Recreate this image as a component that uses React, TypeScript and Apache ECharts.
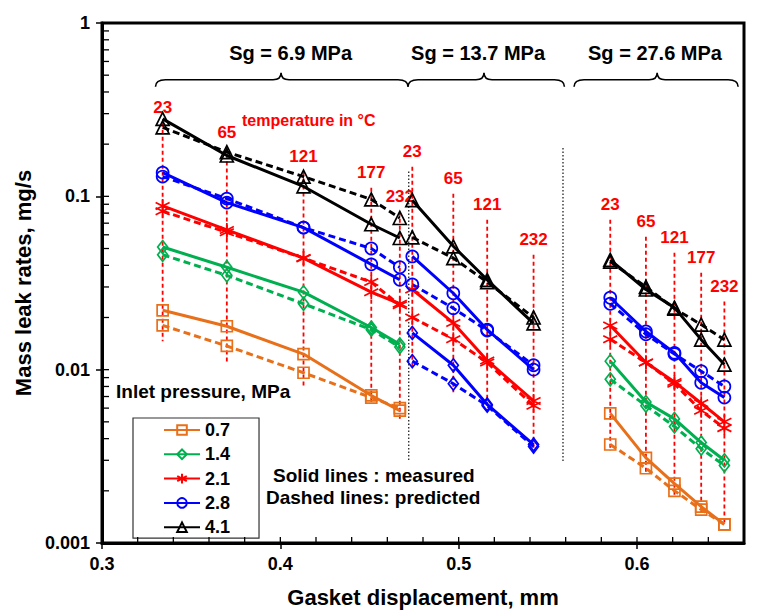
import React, { useEffect, useRef } from 'react';
import * as echarts from 'echarts';

const FONT = "'Liberation Sans', Arial, Helvetica, sans-serif";

// Gasket displacement (mm) of each test, grouped by gasket stress Sg
const xSg69 = [0.334, 0.370, 0.413, 0.451, 0.467];
const xSg137 = [0.474, 0.497, 0.516, 0.542];
const xSg276 = [0.585, 0.605, 0.621, 0.636, 0.649];

// Temperatures (°C) of each test
const tempSg69 = ['23', '65', '121', '177', '232'];
const tempSg137 = ['23', '65', '121', '232'];
const tempSg276 = ['23', '65', '121', '177', '232'];

// Inlet pressures (MPa)
const pressureNames = ['0.7', '1.4', '2.1', '2.8', '4.1'];

// Mass leak rates (mg/s): measured (solid) / predicted (dashed)
const meas07_69 = [0.022, 0.0178, 0.0123, 0.0071, 0.0058];
const pred07_69 = [0.018, 0.0137, 0.0096, 0.0069, 0.0060];
const meas07_276 = [0.0056, 0.0031, 0.0022, 0.00162, 0.00128];
const pred07_276 = [0.0037, 0.0027, 0.0020, 0.00156, 0.00128];

const meas14_69 = [0.051, 0.039, 0.028, 0.0175, 0.0140];
const pred14_69 = [0.046, 0.035, 0.024, 0.0170, 0.0135];
const meas14_137 = [0.0163, 0.0106, 0.0063, 0.0037];
const pred14_137 = [0.0112, 0.0083, 0.0062, 0.0036];
const meas14_276 = [0.0112, 0.0065, 0.0052, 0.0038, 0.0030];
const pred14_276 = [0.0088, 0.0062, 0.0047, 0.0035, 0.0028];

const meas21_69 = [0.088, 0.064, 0.044, 0.028, 0.024];
const pred21_69 = [0.082, 0.062, 0.044, 0.032, 0.0235];
const meas21_137 = [0.029, 0.0186, 0.0113, 0.0066];
const pred21_137 = [0.020, 0.015, 0.011, 0.0062];
const meas21_276 = [0.018, 0.011, 0.0085, 0.0064, 0.0050];
const pred21_276 = [0.015, 0.011, 0.0083, 0.0058, 0.0046];

const meas28_69 = [0.137, 0.092, 0.066, 0.0405, 0.033];
const pred28_69 = [0.130, 0.097, 0.066, 0.050, 0.039];
const meas28_137 = [0.045, 0.0276, 0.017, 0.0100];
const pred28_137 = [0.031, 0.0226, 0.0168, 0.0106];
const meas28_276 = [0.026, 0.0166, 0.0125, 0.0084, 0.0069];
const pred28_276 = [0.024, 0.0160, 0.0123, 0.0098, 0.0080];

const meas41_69 = [0.28, 0.172, 0.114, 0.069, 0.0575];
const pred41_69 = [0.25, 0.180, 0.130, 0.096, 0.075];
const meas41_137 = [0.095, 0.0515, 0.033, 0.0185];
const pred41_137 = [0.058, 0.044, 0.032, 0.0200];
const meas41_276 = [0.043, 0.029, 0.0228, 0.0149, 0.0107];
const pred41_276 = [0.042, 0.030, 0.0225, 0.0182, 0.0149];

// Vertical temperature guide lines (top / bottom in mg/s)
const tempTop69 = [0.266, 0.191, 0.139, 0.112, 0.0815];
const tempBottom69 = [0.0146, 0.0109, 0.008, 0.0065, 0.0052];
const tempTop137 = [0.148, 0.1035, 0.0733, 0.046];
const tempBottom137 = [0.010, 0.0074, 0.0057, 0.0035];
const tempTop276 = [0.0733, 0.0585, 0.0473, 0.0362, 0.0247];
const tempBottom276 = [0.0034, 0.0025, 0.0019, 0.0015, 0.0013];

// Dotted separators between gasket stress groups
const dividerX = [0.472, 0.5585];
const dividerTop = [0.139, 0.19];
const dividerBottom = [0.003, 0.0029];

// Braces over each gasket stress group
const braceTitles = ['Sg = 6.9 MPa', 'Sg = 13.7 MPa', 'Sg = 27.6 MPa'];
const braceStart = [0.330, 0.4716, 0.5647];
const braceEnd = [0.4716, 0.5593, 0.6567];
const braceTip = [0.4004, 0.5142, 0.6113];
const braceTitleX = [0.4058, 0.5109, 0.6101];
const braceLevel = 0.471;
const braceTitleLevel = 0.674;

// Axis ticks
const xMajorTicks = [0.3, 0.4, 0.5, 0.6];
const xMinorTicks = [0.32, 0.34, 0.36, 0.38, 0.42, 0.44, 0.46, 0.48, 0.52, 0.54, 0.56, 0.58, 0.62, 0.64];
const yDecades = [0.001, 0.01, 0.1];
const yMantissas = [2, 3, 4, 5, 6, 7, 8, 9];

const ORANGE = '#E8701A';
const GREEN = '#00B050';
const RED = '#FF0000';
const BLUE = '#0000FF';
const BLACK = '#000000';
const STAR = 'path://M5 0L5 10M0.67 2.5L9.33 7.5M9.33 2.5L0.67 7.5';

function lineSeries(name: string, xs: number[], ys: number[], color: string, symbol: string, symbolSize: any, dashed: boolean) {
  return {
    type: 'line',
    name,
    data: xs.map((x, i) => [x, ys[i]]),
    symbol,
    symbolSize,
    showSymbol: true,
    lineStyle: { color, width: 3, type: dashed ? [7, 4] : 'solid' },
    itemStyle: { color: 'transparent', borderColor: color, borderWidth: 1.7 },
    emphasis: { disabled: true },
    z: 3,
  };
}

export default function App() {
  const ref = useRef<HTMLDivElement>(null);

  useEffect(() => {
    document.body.style.margin = '0';
    if (!ref.current) return;
    const chart = echarts.init(ref.current, undefined, { renderer: 'svg' });

    const styles: Record<string, { color: string; symbol: string; size: any }> = {
      '0.7': { color: ORANGE, symbol: 'rect', size: 11 },
      '1.4': { color: GREEN, symbol: 'diamond', size: [10, 13] },
      '2.1': { color: RED, symbol: STAR, size: 14 },
      '2.8': { color: BLUE, symbol: 'circle', size: 12 },
      '4.1': { color: BLACK, symbol: 'triangle', size: 13 },
    };

    const groups: [string, number[], number[], number[]][] = [
      ['0.7', xSg69, meas07_69, pred07_69],
      ['0.7', xSg276, meas07_276, pred07_276],
      ['1.4', xSg69, meas14_69, pred14_69],
      ['1.4', xSg276, meas14_276, pred14_276],
      ['2.1', xSg69, meas21_69, pred21_69],
      ['2.1', xSg137, meas21_137, pred21_137],
      ['2.1', xSg276, meas21_276, pred21_276],
      ['2.8', xSg69, meas28_69, pred28_69],
      ['2.8', xSg137, meas28_137, pred28_137],
      ['2.8', xSg276, meas28_276, pred28_276],
      ['4.1', xSg69, meas41_69, pred41_69],
      ['4.1', xSg137, meas41_137, pred41_137],
      ['4.1', xSg276, meas41_276, pred41_276],
    ];

    const dataSeries: any[] = [];
    groups.forEach(([p, xs, m, pr]) => {
      const s = styles[p];
      dataSeries.push(lineSeries(p, xs, m, s.color, s.symbol, s.size, false));
      dataSeries.push(lineSeries(p + ' predicted', xs, pr, s.color, s.symbol, s.size, true));
    });
    // 1.4 MPa in the Sg = 13.7 MPa group is drawn in blue with diamonds
    dataSeries.push(lineSeries('1.4 (Sg 13.7)', xSg137, meas14_137, BLUE, 'diamond', [10, 13], false));
    dataSeries.push(lineSeries('1.4 (Sg 13.7) predicted', xSg137, pred14_137, BLUE, 'diamond', [10, 13], true));

    const tempLines = [
      ...xSg69.map((x, i) => ({ x, top: tempTop69[i], bottom: tempBottom69[i], label: tempSg69[i] })),
      ...xSg137.map((x, i) => ({ x, top: tempTop137[i], bottom: tempBottom137[i], label: tempSg137[i] })),
      ...xSg276.map((x, i) => ({ x, top: tempTop276[i], bottom: tempBottom276[i], label: tempSg276[i] })),
    ];

    const ticks: { x: number; y: number; dir: 'x' | 'y'; len: number }[] = [];
    xMajorTicks.forEach((x) => ticks.push({ x, y: 0.001, dir: 'x', len: 6 }));
    xMinorTicks.forEach((x) => ticks.push({ x, y: 0.001, dir: 'x', len: 6 }));
    yDecades.forEach((d) => {
      ticks.push({ x: 0.3, y: d, dir: 'y', len: 7 });
      yMantissas.forEach((m) => ticks.push({ x: 0.3, y: d * m, dir: 'y', len: 7 }));
    });

    const option: any = {
      animation: false,
      backgroundColor: '#ffffff',
      grid: {
        left: 102,
        right: 18,
        top: 23,
        bottom: 73,
        show: true,
        borderColor: '#000',
        borderWidth: 3,
        backgroundColor: 'transparent',
      },
      legend: {
        data: pressureNames,
        orient: 'vertical',
        left: 133,
        top: 418,
        padding: [3, 29, 2, 30],
        borderColor: '#333',
        borderWidth: 1.2,
        itemWidth: 36,
        itemHeight: 12,
        itemGap: 6.3,
        selectedMode: false,
        textStyle: { fontFamily: FONT, fontSize: 18, fontWeight: 'bold', color: '#000', lineHeight: 18 },
      },
      xAxis: {
        type: 'value',
        min: 0.3,
        max: 0.66,
        interval: 0.1,
        name: 'Gasket displacement, mm',
        nameLocation: 'middle',
        nameGap: 43,
        nameTextStyle: { fontFamily: FONT, fontSize: 22, fontWeight: 'bold', color: '#000' },
        axisLine: { show: true, lineStyle: { color: '#000', width: 3 } },
        axisTick: { show: true, inside: false, length: 6, lineStyle: { color: '#000', width: 1.5 } },
        axisLabel: {
          fontFamily: FONT,
          fontSize: 18,
          fontWeight: 'bold',
          color: '#000',
          margin: 12,
          showMaxLabel: false,
          formatter: (v: number) => (Math.abs(v * 10 - Math.round(v * 10)) < 1e-6 ? v.toFixed(1) : ''),
        },
        splitLine: { show: false },
      },
      yAxis: {
        type: 'log',
        logBase: 10,
        min: 0.001,
        max: 1,
        name: 'Mass leak rates, mg/s',
        nameLocation: 'middle',
        nameGap: 63,
        nameRotate: 90,
        nameTextStyle: { fontFamily: FONT, fontSize: 22, fontWeight: 'bold', color: '#000' },
        axisLine: { show: true, lineStyle: { color: '#000', width: 3 } },
        axisTick: { show: true, inside: false, length: 6, lineStyle: { color: '#000', width: 1.5 } },
        axisLabel: {
          fontFamily: FONT,
          fontSize: 18,
          fontWeight: 'bold',
          color: '#000',
          margin: 12,
          formatter: (v: number) => String(parseFloat(Number(v).toPrecision(3))),
        },
        splitLine: { show: false },
      },
      series: [
        {
          type: 'custom',
          name: 'temperature lines',
          z: 1,
          silent: true,
          data: tempLines.map((t) => [t.x, t.top, t.bottom]),
          renderItem: (params: any, api: any) => {
            const t = tempLines[params.dataIndex];
            const p1 = api.coord([t.x, t.top]);
            const p2 = api.coord([t.x, t.bottom]);
            return {
              type: 'group',
              children: [
                {
                  type: 'line',
                  shape: { x1: p1[0], y1: p1[1], x2: p2[0], y2: p2[1] },
                  style: { stroke: RED, lineWidth: 1.8, lineDash: [4, 3] },
                },
                {
                  type: 'text',
                  x: p1[0],
                  y: p1[1] - 15,
                  style: {
                    text: t.label,
                    fill: RED,
                    font: `bold 17px ${FONT}`,
                    align: 'center',
                    verticalAlign: 'middle',
                  },
                },
              ],
            };
          },
        },
        {
          type: 'custom',
          name: 'dividers',
          z: 1,
          silent: true,
          data: dividerX.map((x, i) => [x, dividerTop[i], dividerBottom[i]]),
          renderItem: (params: any, api: any) => {
            const i = params.dataIndex;
            const p1 = api.coord([dividerX[i], dividerTop[i]]);
            const p2 = api.coord([dividerX[i], dividerBottom[i]]);
            return {
              type: 'line',
              shape: { x1: p1[0], y1: p1[1], x2: p2[0], y2: p2[1] },
              style: { stroke: '#222', lineWidth: 1.3, lineDash: [1.5, 2] },
            };
          },
        },
        {
          type: 'custom',
          name: 'braces',
          z: 1,
          silent: true,
          data: braceStart.map((s, i) => [s, braceLevel]),
          renderItem: (params: any, api: any) => {
            const i = params.dataIndex;
            const a = api.coord([braceStart[i], braceLevel]);
            const b = api.coord([braceEnd[i], braceLevel]);
            const c = api.coord([braceTip[i], braceLevel]);
            const t = api.coord([braceTitleX[i], braceTitleLevel]);
            const y = a[1];
            const x1 = a[0];
            const x2 = b[0];
            const xt = c[0];
            const d =
              `M${x1} ${y + 7} Q${x1} ${y} ${x1 + 10} ${y} L${xt - 8} ${y} Q${xt} ${y} ${xt} ${y - 7} ` +
              `Q${xt} ${y} ${xt + 8} ${y} L${x2 - 10} ${y} Q${x2} ${y} ${x2} ${y + 7}`;
            return {
              type: 'group',
              children: [
                { type: 'path', shape: { pathData: d }, style: { fill: 'none', stroke: '#000', lineWidth: 1.6 } },
                {
                  type: 'text',
                  x: t[0],
                  y: t[1],
                  style: {
                    text: braceTitles[i],
                    fill: '#000',
                    font: `bold 20px ${FONT}`,
                    align: 'center',
                    verticalAlign: 'middle',
                  },
                },
              ],
            };
          },
        },
        {
          type: 'custom',
          name: 'inner ticks',
          z: 6,
          silent: true,
          data: ticks.map((t) => [t.x, t.y]),
          renderItem: (params: any, api: any) => {
            const t = ticks[params.dataIndex];
            const p = api.coord([t.x, t.y]);
            const shape =
              t.dir === 'x'
                ? { x1: p[0], y1: p[1], x2: p[0], y2: p[1] - t.len }
                : { x1: p[0], y1: p[1], x2: p[0] + t.len, y2: p[1] };
            return { type: 'line', shape, style: { stroke: '#000', lineWidth: 1.3 } };
          },
        },
        ...dataSeries,
      ],
      graphic: [
        {
          type: 'text',
          left: 242,
          top: 112,
          z: 10,
          style: { text: 'temperature in °C', fill: RED, font: `bold 16px ${FONT}` },
        },
        {
          type: 'text',
          left: 116,
          top: 382,
          z: 10,
          style: { text: 'Inlet pressure, MPa', fill: '#000', font: `bold 19px ${FONT}` },
        },
        {
          type: 'text',
          left: 273,
          top: 466,
          z: 10,
          style: { text: 'Solid lines : measured', fill: '#000', font: `bold 19px ${FONT}` },
        },
        {
          type: 'text',
          left: 266,
          top: 488,
          z: 10,
          style: { text: 'Dashed lines: predicted', fill: '#000', font: `bold 19px ${FONT}` },
        },
      ],
    };

    chart.setOption(option);
    return () => {
      chart.dispose();
    };
  }, []);

  return <div ref={ref} style={{ width: 762, height: 616 }} />;
}
